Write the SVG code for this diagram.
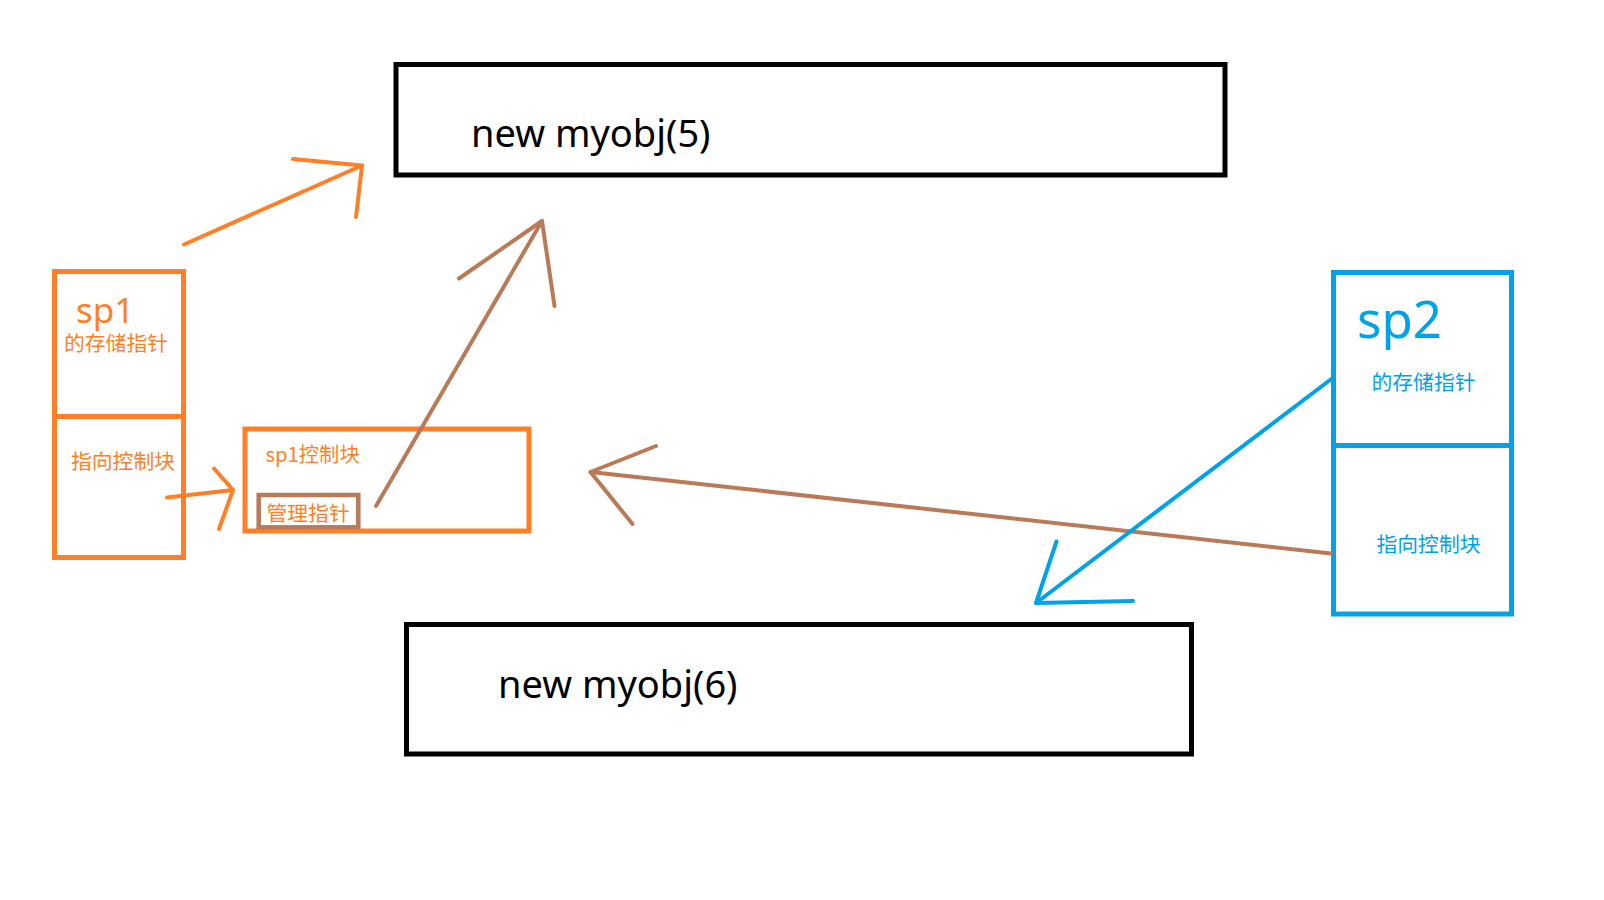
<svg xmlns="http://www.w3.org/2000/svg" width="1604" height="900" viewBox="0 0 1604 900">
<style>
.blk{fill:none;stroke:#000;stroke-width:5}
.or{fill:none;stroke:#FF7F27;stroke-width:5}
.br{fill:none;stroke:#B97A57;stroke-width:4.5}
.bl{fill:none;stroke:#00A2E8;stroke-width:5}
.ln{fill:none;stroke-width:4;stroke-linecap:round;stroke-linejoin:round}
text{font-family:"Noto Sans","Noto Sans CJK SC",sans-serif}
.cjk{font-family:"Noto Sans CJK SC","Noto Sans",sans-serif}
.big{font-size:38px;fill:#000}
.ot{fill:#FF7F27}
.bt{fill:#00A2E8}
</style>
<rect width="1604" height="900" fill="#fff"/>
<g id="obj5">
<rect class="blk" x="396" y="64.5" width="829" height="110.5"/>
<text class="big" x="471" y="146.5">new myobj(5)</text>
</g>
<g id="obj6">
<rect class="blk" x="406.5" y="624.5" width="785" height="129.5"/>
<text class="big" x="498" y="698">new myobj(6)</text>
</g>
<g id="sp1">
<rect class="or" x="54.5" y="271.5" width="129" height="286"/>
<line class="or" x1="54.5" y1="416.5" x2="183.5" y2="416.5"/>
<text class="ot" x="76" y="323" font-size="35">sp1</text>
<text class="ot cjk" x="64" y="351" font-size="20.8">的存储指针</text>
<text class="ot cjk" x="71" y="468.5" font-size="20.8">指向控制块</text>
</g>
<g id="sp1ctrl">
<rect class="or" x="245" y="429" width="284" height="102"/>
<text class="ot cjk" x="265.5" y="461.5" font-size="20.3">sp1控制块</text>
</g>
<g id="mgr">
<rect class="br" x="258.7" y="495" width="99.6" height="32.3"/>
<text class="ot cjk" x="266.5" y="521" font-size="20.8">管理指针</text>
</g>
<g id="sp2">
<rect class="bl" x="1333.5" y="272.5" width="178" height="341.5"/>
<line class="bl" x1="1333.5" y1="445.5" x2="1511.5" y2="445.5"/>
<text class="bt" x="1357" y="337.5" font-size="51">sp2</text>
<text class="bt cjk" x="1371.5" y="390" font-size="20.8">的存储指针</text>
<text class="bt cjk" x="1376.5" y="551.5" font-size="20.8">指向控制块</text>
</g>
<g id="connectors">
<g stroke="#FF7F27" class="ln">
<line x1="184" y1="244.5" x2="362" y2="165.5"/>
<polyline points="293,159 362,165.5 356,217"/>
<line x1="167" y1="497.5" x2="233" y2="490"/>
<polyline points="214,468.5 233,490 219,529"/>
</g>
<g stroke="#B97A57" class="ln">
<line x1="376" y1="506" x2="542" y2="221"/>
<polyline points="459,278.5 542,221 554.5,306"/>
<line x1="1331" y1="553.5" x2="590.5" y2="472"/>
<polyline points="656,446 590.5,472 632.5,524"/>
</g>
<g stroke="#00A2E8" class="ln">
<line x1="1332" y1="378.5" x2="1036" y2="603"/>
<polyline points="1056.5,541.5 1036,603 1133,601"/>
</g>
</g>
</svg>
